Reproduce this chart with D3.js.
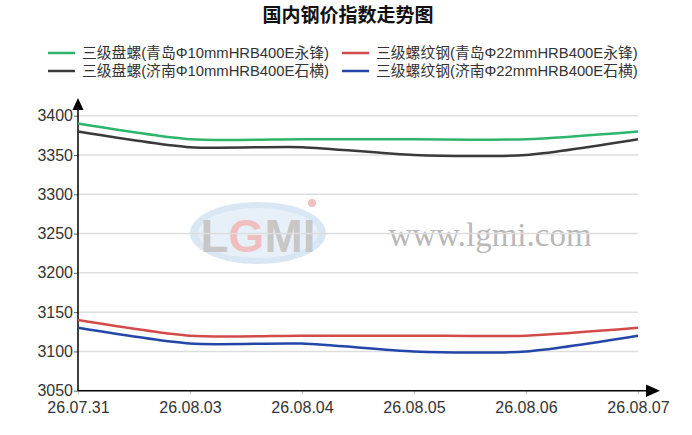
<!DOCTYPE html>
<html><head><meta charset="utf-8">
<script src="https://cdn.jsdelivr.net/npm/d3@7/dist/d3.min.js"></script>
<style>
body{margin:0;background:#fff;}
text{font-family:"Liberation Sans",Arial,"Noto Sans CJK SC",sans-serif;}
</style></head>
<body><svg id="c" width="692" height="435"></svg>
<script>
const title = "国内钢价指数走势图";
const categories = ["26.07.31","26.08.03","26.08.04","26.08.05","26.08.06","26.08.07"];
const seriesNames = ["三级盘螺(青岛Φ10mmHRB400E永锋)","三级螺纹钢(青岛Φ22mmHRB400E永锋)","三级盘螺(济南Φ10mmHRB400E石横)","三级螺纹钢(济南Φ22mmHRB400E石横)"];
const greenValues = [3390,3370,3370,3370,3370,3380];
const redValues   = [3140,3120,3120,3120,3120,3130];
const blackValues = [3380,3360,3360,3350,3350,3370];
const blueValues  = [3130,3110,3110,3100,3100,3120];
const yTicks = [3050,3100,3150,3200,3250,3300,3350,3400];
const colors = ["#2db56c","#d24a4a","#3a3a3a","#2446a8"];
const seriesValues = [greenValues, redValues, blackValues, blueValues];

const svg = d3.select("#c");
const x = d3.scalePoint().domain(categories).range([78, 638]);
const y = d3.scaleLinear().domain([3050, 3400]).range([390.7, 115.7]);

// title
svg.append("text").attr("x",348).attr("y",22).attr("text-anchor","middle")
  .attr("font-size",19).attr("font-weight","bold").attr("fill","#111")
  .style("font-family","'Noto Sans CJK SC',sans-serif").text(title);

// legend
const legPos = [[48,53],[342,53],[48,71],[342,71]];
seriesNames.forEach((n,i)=>{
  const [lx,ly]=legPos[i];
  svg.append("line").attr("x1",lx).attr("x2",lx+27).attr("y1",ly).attr("y2",ly)
    .attr("stroke",colors[i]).attr("stroke-width",2.5);
  svg.append("text").attr("x",lx+34).attr("y",ly+5).attr("font-size",14.8)
    .attr("fill","#333").text(n);
});

// watermark
const wm = svg.append("g").attr("opacity",0.55);
wm.append("ellipse").attr("cx",258).attr("cy",233).attr("rx",68).attr("ry",31)
  .attr("fill","#9ec3e6").attr("opacity",0.7);
wm.append("ellipse").attr("cx",258).attr("cy",233).attr("rx",60).attr("ry",25)
  .attr("fill","#dce9f6").attr("opacity",0.8);
const lg = wm.append("text").attr("x",258).attr("y",252).attr("text-anchor","middle")
  .attr("font-size",46).attr("font-weight","bold").style("font-family","'Liberation Sans',Arial").attr("fill","#9a9a9a");
lg.append("tspan").text("L");
lg.append("tspan").attr("fill","#e58a8a").text("G");
lg.append("tspan").text("MI");
wm.append("circle").attr("cx",312).attr("cy",203).attr("r",4).attr("fill","#e58a8a");
svg.append("text").attr("x",490).attr("y",246).attr("text-anchor","middle")
  .attr("font-size",33).attr("fill","#b8b8b8").style("font-family","'Liberation Serif',serif")
  .text("www.lgmi.com");

// grid
svg.append("g").selectAll("line").data(yTicks.slice(1)).join("line")
  .attr("x1",78).attr("x2",638).attr("y1",d=>y(d)).attr("y2",d=>y(d))
  .attr("stroke","#dedede").attr("stroke-width",1.5);

// y axis
const yAxis = svg.append("g").attr("transform","translate(78,0)")
  .call(d3.axisLeft(y).tickValues(yTicks).tickSize(4).tickPadding(1).tickFormat(d3.format("d")));
yAxis.select(".domain").remove();
yAxis.selectAll(".tick line").attr("stroke","#666");
yAxis.selectAll(".tick text").attr("font-size",16).attr("fill","#333")
  .style("font-family","'Liberation Sans',Arial");

// x axis
const xAxis = svg.append("g").attr("transform","translate(0,390.7)")
  .call(d3.axisBottom(x).tickSize(4).tickPadding(7));
xAxis.select(".domain").remove();
xAxis.selectAll(".tick line").attr("stroke","#ccc");
xAxis.selectAll(".tick text").attr("font-size",16).attr("fill","#333")
  .style("font-family","'Liberation Sans',Arial");

// axis lines and arrows
svg.append("line").attr("x1",78).attr("x2",78).attr("y1",391).attr("y2",104).attr("stroke","#000").attr("stroke-width",1.5);
svg.append("line").attr("x1",78).attr("x2",650).attr("y1",390.7).attr("y2",390.7).attr("stroke","#000").attr("stroke-width",1.5);
svg.append("path").attr("d","M78,98 L72.5,110 L83.5,110 Z").attr("fill","#000");
svg.append("path").attr("d","M660,390.7 L646,384.5 L646,397 Z").attr("fill","#000");

// lines
const line = d3.line().x((d,i)=>x(categories[i])).y(d=>y(d)).curve(d3.curveCardinal.tension(0.3));
seriesValues.forEach((vals,i)=>{
  svg.append("path").datum(vals).attr("d",line).attr("fill","none")
    .attr("stroke",colors[i]).attr("stroke-width",2.5);
});
</script></body></html>
